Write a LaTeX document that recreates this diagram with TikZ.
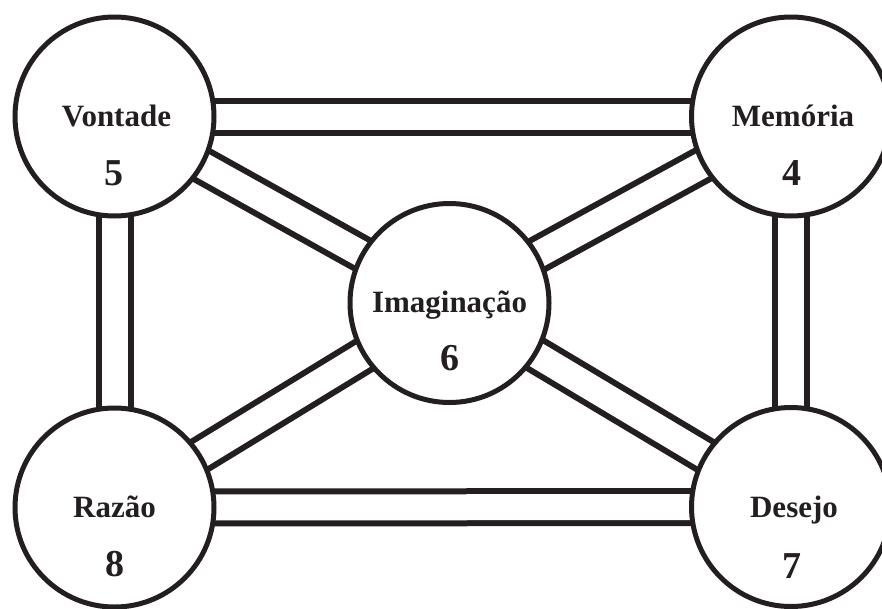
\documentclass[tikz,border=0pt]{standalone}
\usepackage{fontspec}
\setmainfont{Liberation Serif}
\usetikzlibrary{backgrounds}
\definecolor{ink}{HTML}{231F20}
\tikzset{
  hub/.style={circle, draw=ink, line width=5pt, fill=white, minimum size=199pt, inner sep=0pt},
  lab/.style={anchor=base, inner sep=0pt, text=ink, font=\fontsize{31}{36}\selectfont\bfseries},
  num/.style={anchor=base, inner sep=0pt, text=ink, font=\fontsize{38}{44}\selectfont\bfseries},
  link/.style={draw=ink, line width=6pt, double=white, double distance=26pt}
}
\begin{document}
\begin{tikzpicture}[x=1pt, y=-1pt]
\useasboundingbox (0,0) rectangle (882,608);
\node[hub] (V) at (114.5,116.5) {};
\node[hub] (M) at (791,116.5) {};
\node[hub] (I) at (449.5,303) {};
\node[hub] (R) at (114.5,507.5) {};
\node[hub] (D) at (791,507) {};
\begin{scope}[on background layer]
  \draw[link] (V.center) -- (M.center);
  \draw[link] (R.center) -- (D.center);
  \draw[link] (V.center) -- (R.center);
  \draw[link] (M.center) -- (D.center);
  \draw[link] (V.center) -- (I.center);
  \draw[link] (M.center) -- (I.center);
  \draw[link] (R.center) -- (I.center);
  \draw[link] (D.center) -- (I.center);
\end{scope}
\node[lab] (Vl) at ([xshift=2pt,yshift=-9.5pt]V.center) {Vontade};
\node[num] (Vn) at ([xshift=-1pt,yshift=-69pt]V.center) {5};
\node[lab] (Ml) at ([xshift=2pt,yshift=-10pt]M.center) {Memória};
\node[num] (Mn) at ([xshift=1pt,yshift=-69pt]M.center) {4};
\node[lab] (Il) at ([yshift=-9pt]I.center) {Imaginação};
\node[num] (In) at ([xshift=0.5pt,yshift=-67pt]I.center) {6};
\node[lab] (Rl) at ([yshift=-10pt]R.center) {Razão};
\node[num] (Rn) at ([xshift=0.5pt,yshift=-69pt]R.center) {8};
\node[lab] (Dl) at ([xshift=3pt,yshift=-10pt]D.center) {Desejo};
\node[num] (Dn) at ([xshift=1pt,yshift=-71pt]D.center) {7};
\end{tikzpicture}
\end{document}
